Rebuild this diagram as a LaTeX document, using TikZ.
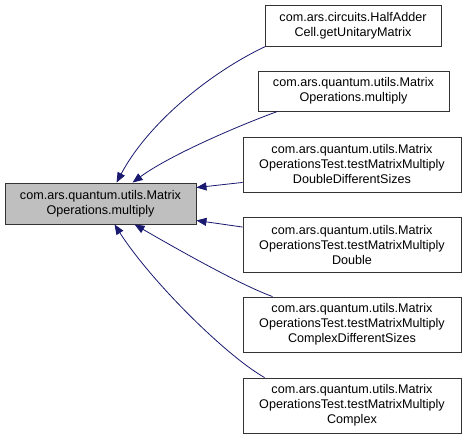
\documentclass[tikz,border=0pt]{standalone}
\usepackage{fontspec}
\setmainfont{Liberation Sans}
\usetikzlibrary{arrows.meta,calc}
\definecolor{edgeblue}{HTML}{191970}
\definecolor{mainfill}{HTML}{BFBFBF}
\tikzset{
  box/.style={draw=black!80, line width=0.9pt, fill=white, align=center, inner sep=0pt,
    font=\fontsize{12.6}{15}\selectfont},
  mainbox/.style={box, fill=mainfill},
  dep/.style={draw=edgeblue, line width=0.8pt, -{Triangle[length=10pt,width=8pt]}, edgeblue}
}
\begin{document}
\begin{tikzpicture}[x=1pt,y=-1pt]
\useasboundingbox (0,0) rectangle (467,438);
\node[mainbox, minimum width=191pt, minimum height=41pt] (main) at (100.5,203.5)
  {com.ars.quantum.utils.Matrix\\Operations.multiply};
\node[box, minimum width=176pt, minimum height=41pt] (b1) at (353,25.5)
  {com.ars.circuits.HalfAdder\\Cell.getUnitaryMatrix};
\node[box, minimum width=191pt, minimum height=40pt] (b2) at (353.5,91)
  {com.ars.quantum.utils.Matrix\\Operations.multiply};
\node[box, minimum width=218pt, minimum height=55pt] (b3) at (352,164.5)
  {com.ars.quantum.utils.Matrix\\OperationsTest.testMatrixMultiply\\DoubleDifferentSizes};
\node[box, minimum width=218pt, minimum height=55pt] (b4) at (352,245)
  {com.ars.quantum.utils.Matrix\\OperationsTest.testMatrixMultiply\\Double};
\node[box, minimum width=218pt, minimum height=55pt] (b5) at (352,324.5)
  {com.ars.quantum.utils.Matrix\\OperationsTest.testMatrixMultiply\\ComplexDifferentSizes};
\node[box, minimum width=218pt, minimum height=55pt] (b6) at (352,405.5)
  {com.ars.quantum.utils.Matrix\\OperationsTest.testMatrixMultiply\\Complex};

\draw[dep] ($(b1.south west)+(1,0)$) .. controls (215,70) and (150,120) .. ($(main.north west)+(112,0)$);
\draw[dep] ($(b2.south west)+(20,0)$) .. controls (240,125) and (170,155) .. ($(main.north west)+(128,0)$);
\draw[dep] ($(b3.south west)+(0,-10)$) -- ($(main.north east)+(0,5)$);
\draw[dep] ($(b4.north west)+(0,10)$) -- ($(main.south east)+(0,-4)$);
\draw[dep] ($(b5.north west)+(30,0)$) .. controls (240,285) and (170,245) .. ($(main.south west)+(130,0)$);
\draw[dep] ($(b6.north west)+(22,0)$) .. controls (225,355) and (150,280) .. ($(main.south west)+(110,0)$);
\end{tikzpicture}
\end{document}
